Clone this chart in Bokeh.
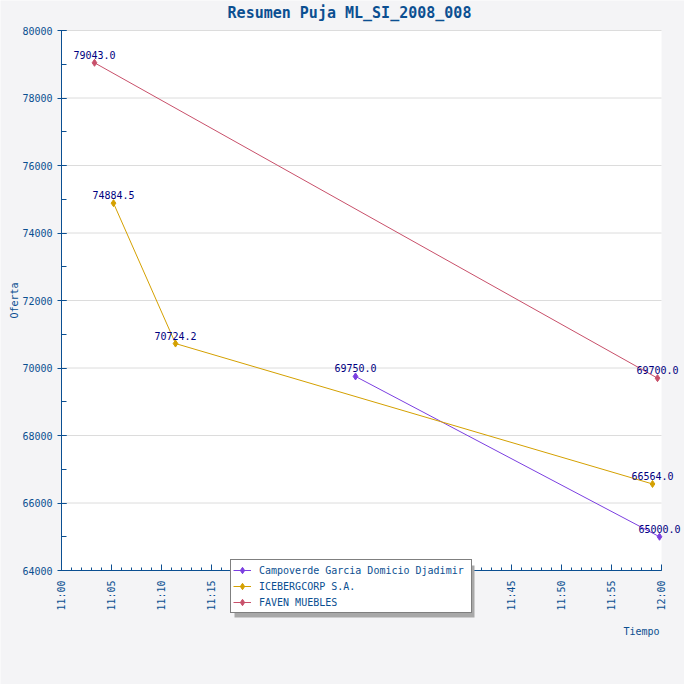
import numpy as np
import pandas as pd
from bokeh.plotting import figure
from bokeh.models import Range1d, FixedTicker, DatetimeTickFormatter, Legend
from bokeh.core.properties import value
from bokeh.embed import file_html
from bokeh.resources import INLINE

# ---- data ----
day = "2008-01-01 "
campo_times = ["11:29:24", "11:59:48"]
campo_vals = [69750.0, 65000.0]
ice_times = ["11:05:12", "11:11:24", "11:59:06"]
ice_vals = [74884.5, 70724.2, 66564.0]
faven_times = ["11:03:18", "11:59:36"]
faven_vals = [79043.0, 69700.0]

series_names = ["Campoverde Garcia Domicio Djadimir", "ICEBERGCORP S.A.", "FAVEN MUEBLES"]
series_colors = ["#7b3fe0", "#d4a000", "#c8506a"]

title_text = "Resumen Puja ML_SI_2008_008"
x_title = "Tiempo"
y_title = "Oferta"
x_tick_labels = ["11:00", "11:05", "11:10", "11:15", "11:20", "11:25", "11:30",
                 "11:35", "11:40", "11:45", "11:50", "11:55", "12:00"]
hidden_by_legend = ["11:20", "11:25", "11:30", "11:35", "11:40"]
y_ticks = [64000, 66000, 68000, 70000, 72000, 74000, 76000, 78000, 80000]
y_minor = [64000 + 1000 * i for i in range(17)]

FONT = "DejaVu Sans Mono"
BLUE = "#0b4f91"
GRAY_BG = "#f4f4f6"

def to_dt(ts):
    return pd.to_datetime([day + t for t in ts])

def to_ms(ts):
    return [int(pd.Timestamp(day + t).value // 10**6) for t in ts]

x_ticks_ms = to_ms(x_tick_labels)
x_minor_ms = [x_ticks_ms[0] + 60000 * i for i in range(61)]

# layout (px): the frame covers the whole figure; the plotting area is 600 x 540 inside it
FIG = 684
PLOT_W, PLOT_H = 600, 540
M_LEFT, M_TOP = 61, 30
M_RIGHT, M_BOTTOM = FIG - M_LEFT - PLOT_W, FIG - M_TOP - PLOT_H
ms_per_px = (x_ticks_ms[-1] - x_ticks_ms[0]) / PLOT_W
val_per_px = (y_ticks[-1] - y_ticks[0]) / PLOT_H
x0_frame = x_ticks_ms[0] - M_LEFT * ms_per_px
y1_frame = y_ticks[-1] + M_TOP * val_per_px

def px_x(px):
    return x0_frame + px * ms_per_px

def px_y(py):
    return y1_frame - py * val_per_px

p = figure(frame_width=FIG, frame_height=FIG,
           output_backend="svg", toolbar_location=None,
           x_axis_type="datetime",
           x_range=Range1d(x0_frame, x_ticks_ms[-1] + M_RIGHT * ms_per_px),
           y_range=Range1d(y_ticks[0] - M_BOTTOM * val_per_px, y1_frame),
           min_border=0)

p.background_fill_color = GRAY_BG
p.border_fill_color = GRAY_BG
p.outline_line_color = None

# white plotting area
p.quad(left=[x_ticks_ms[0]], right=[x_ticks_ms[-1]], bottom=[y_ticks[0]], top=[y_ticks[-1]],
       fill_color="white", line_color=None)
# horizontal grid lines at the major y ticks
p.segment(x0=[x_ticks_ms[0]] * (len(y_ticks) - 1), x1=[x_ticks_ms[-1]] * (len(y_ticks) - 1),
          y0=y_ticks[1:], y1=y_ticks[1:], line_color="#dcdcdc", line_width=1)

# axes
xa = p.xaxis[0]
xa.fixed_location = y_ticks[0]
xa.bounds = (x_ticks_ms[0], x_ticks_ms[-1])
xa.ticker = FixedTicker(ticks=x_ticks_ms, minor_ticks=x_minor_ms)
xa.formatter = DatetimeTickFormatter(seconds="%H:%M", minsec="%H:%M", minutes="%H:%M",
                                     hourmin="%H:%M", hours="%H:%M")
# tick labels that the legend box covers in the original are left empty
xa.major_label_overrides = {ms: "" for ms, lab in zip(x_ticks_ms, x_tick_labels)
                            if lab in hidden_by_legend}
xa.major_label_orientation = np.pi / 2
xa.major_label_standoff = 10
xa.major_tick_in = 6
xa.major_tick_out = 0
xa.minor_tick_in = 3
xa.minor_tick_out = 0
xa.axis_line_color = BLUE
xa.major_tick_line_color = BLUE
xa.minor_tick_line_color = BLUE
xa.major_label_text_color = BLUE
xa.major_label_text_font = FONT
xa.major_label_text_font_size = "10px"

ya = p.yaxis[0]
ya.fixed_location = x_ticks_ms[0]
ya.bounds = (y_ticks[0], y_ticks[-1])
ya.ticker = FixedTicker(ticks=y_ticks, minor_ticks=y_minor)
ya.major_tick_in = 5
ya.major_tick_out = 4
ya.minor_tick_in = 5
ya.minor_tick_out = 0
ya.axis_line_color = BLUE
ya.major_tick_line_color = BLUE
ya.minor_tick_line_color = BLUE
ya.major_label_text_color = BLUE
ya.major_label_text_font = FONT
ya.major_label_text_font_size = "10px"
ya.major_label_standoff = 5

p.xgrid.visible = False
p.ygrid.visible = False

# y axis title, centred on the plotting area
p.text(x=[x_ticks_ms[0]], y=[(y_ticks[0] + y_ticks[-1]) / 2], text=[y_title], angle=np.pi / 2,
       x_offset=-47, text_align="center", text_baseline="middle", text_font=value(FONT),
       text_font_size="10px", text_color=BLUE)
# x axis title, right-aligned under the axis end
p.text(x=[x_ticks_ms[-1]], y=[y_ticks[0]], text=[x_title], x_offset=-2, y_offset=61,
       text_align="right", text_baseline="middle", text_font=value(FONT),
       text_font_size="10px", text_color=BLUE)
# chart title
p.text(x=[(x_ticks_ms[0] + x_ticks_ms[-1]) / 2], y=[y_ticks[-1]], text=[title_text],
       x_offset=-12, y_offset=-18, text_align="center", text_baseline="middle",
       text_font=value(FONT), text_font_size="15px", text_font_style="bold", text_color=BLUE)

all_series = [(campo_times, campo_vals), (ice_times, ice_vals), (faven_times, faven_vals)]
items = []
for (ts, vs), name, col in zip(all_series, series_names, series_colors):
    xs = to_dt(ts)
    r1 = p.line(xs, vs, line_color=col, line_width=1)
    r2 = p.scatter(xs, vs, marker="diamond", size=7, fill_color=col, line_color=col)
    items.append((name, [r1, r2]))
    p.text(x=xs, y=vs, text=[f"{v:.1f}" for v in vs], text_align="center",
           text_baseline="bottom", y_offset=-4, text_font=value(FONT),
           text_font_size="10px", text_color="#000080")

# legend box (left 230, bottom 613 px) with a drop shadow offset 4 px
LG_L, LG_B, LG_W, LG_H, SH = 230, 613, 240, 52, 4
p.quad(left=[px_x(LG_L + SH)], right=[px_x(LG_L + LG_W + SH)],
       top=[px_y(LG_B - LG_H + SH)], bottom=[px_y(LG_B + SH)],
       fill_color="#a8a8a8", line_color=None, level="overlay")

lg = Legend(items=items, location=(LG_L, FIG - LG_B), orientation="vertical")
lg.label_text_font = FONT
lg.label_text_font_size = "10px"
lg.label_text_color = BLUE
lg.glyph_width = 18
lg.glyph_height = 16
lg.label_height = 16
lg.label_width = 210
lg.spacing = 0
lg.padding = 2
lg.margin = 0
lg.label_standoff = 8
lg.background_fill_alpha = 1
lg.background_fill_color = "white"
lg.border_line_color = "black"
lg.border_line_width = 1
p.add_layout(lg, "center")

open("out.html", "w").write(file_html(p, INLINE))
